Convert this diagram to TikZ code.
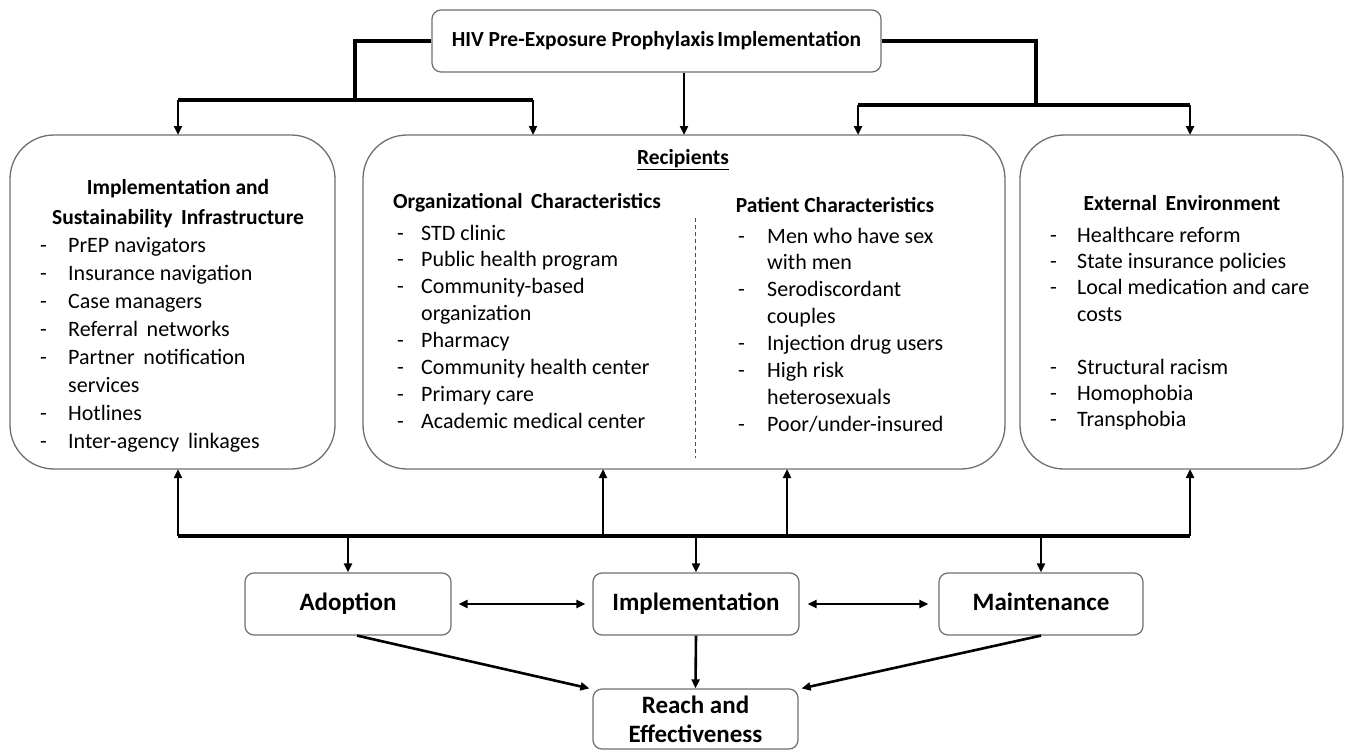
\documentclass[tikz,border=0pt]{standalone}
\usepackage{fontspec}
\setmainfont{Carlito}
\usetikzlibrary{arrows.meta}
\definecolor{boxgray}{HTML}{6E6E6E}
\begin{document}
\begin{tikzpicture}[x=1pt,y=-1pt,
  bigbox/.style={draw=boxgray, line width=1.3pt, rounded corners=44pt, inner sep=0pt},
  smallbox/.style={draw=boxgray, line width=1.2pt, rounded corners=9pt, inner sep=0pt,
     minimum width=206pt, minimum height=62pt, align=center,
     font=\fontsize{25}{29}\selectfont\bfseries},
  oneline/.style={text height=17pt, text depth=5pt},
  titlebox/.style={draw=boxgray, line width=1.2pt, rounded corners=9pt, inner sep=0pt,
     minimum width=449pt, minimum height=62pt, font=\fontsize{21.5}{25}\selectfont\bfseries},
  head/.style={inner sep=0pt, align=center, font=\fontsize{21.5}{30}\selectfont\bfseries},
  listtxt/.style={inner sep=0pt, anchor=base west},
  conn/.style={line width=3.2pt},
  arr/.style={line width=2.4pt, -{Triangle[length=9pt,width=8pt]}},
  darr/.style={line width=2.6pt, {Triangle[length=9pt,width=8pt]}-{Triangle[length=9pt,width=8pt]}},
  sep/.style={draw=black!70, line width=1pt, dash pattern=on 4pt off 3pt}
]
\useasboundingbox (0,0) rectangle (1353,752);
% title
\node[titlebox] (title) at (656.5,41) {HIV Pre-Exposure Prophylaxis\hspace{-0.08em} Implementation};
% big boxes
\node[bigbox, minimum width=325pt, minimum height=334pt] (left) at (172.5,302) {};
\node[bigbox, minimum width=642pt, minimum height=334pt] (mid) at (684,302) {};
\node[bigbox, minimum width=323pt, minimum height=334pt] (right) at (1181.5,302) {};
% small boxes
\node[smallbox, oneline] (adopt) at (348,604) {Adoption};
\node[smallbox, oneline] (impl) at (696,604) {Implementation};
\node[smallbox, oneline, minimum width=204pt] (maint) at (1041,604) {Maintenance};
\node[smallbox, minimum width=205pt, minimum height=60pt] (reach) at (695.5,719) {Reach and\\Effectiveness};

% headers
\node[head] (hleft) at (178,204) {Implementation and\\Sustainability\, Infrastructure};
\node[head] (hrec) at (683,160) {\underline{Recipients}};
\node[head] (horg) at (527,203) {Organizational\, Characteristics};
\node[head] (hpat) at (835,205) {Patient Characteristics};
\node[head] (hext) at (1182,203) {External\, Environment};

% lists
\node[listtxt, font=\fontsize{22}{28}\selectfont] (lleft) at (40,252) {%
\begin{tabular}[t]{@{}p{28pt}@{}l@{}}
-&PrEP navigators\\
-&Insurance navigation\\
-&Case managers\\
-&Referral\, networks\\
-&Partner\, notification\\
 &services\\
-&Hotlines\\
-&Inter-agency\, linkages
\end{tabular}};
\node[listtxt, font=\fontsize{22}{26.9}\selectfont] (lorg) at (397,240) {%
\begin{tabular}[t]{@{}p{24pt}@{}l@{}}
-&STD clinic\\
-&Public health program\\
-&Community-based\\
 &organization\\
-&Pharmacy\\
-&Community health center\\
-&Primary care\\
-&Academic medical center
\end{tabular}};
\node[listtxt, font=\fontsize{22}{26.9}\selectfont] (lpat) at (738,243) {%
\begin{tabular}[t]{@{}p{29pt}@{}l@{}}
-&Men who have sex\\
 &with men\\
-&Serodiscordant\\
 &couples\\
-&Injection drug users\\
-&High risk\\
 &heterosexuals\\
-&Poor/under-insured
\end{tabular}};
\node[listtxt, font=\fontsize{22}{26.4}\selectfont] (lext) at (1050,242) {%
\begin{tabular}[t]{@{}p{27pt}@{}l@{}}
-&Healthcare reform\\
-&State insurance policies\\
-&Local medication and care\\
 &costs\\
 &\\
-&Structural racism\\
-&Homophobia\\
-&Transphobia
\end{tabular}};

% dashed separator
\coordinate (s1) at (695,218);
\coordinate (s2) at (695,458);
\draw[sep] (s1) -- (s2);

% top connectors
\coordinate (jl) at (355,100);
\coordinate (jr) at (1036,105);
\coordinate (tA) at (178,135);
\coordinate (tB) at (533,135);
\coordinate (tC) at (684,135);
\coordinate (tD) at (858,135);
\coordinate (tE) at (1190,135);
\draw[conn] (title.west) -| (jl);
\draw[conn] (tA |- jl) -- (tB |- jl);
\draw[arr] (tA |- jl) -- (tA);
\draw[arr] (tB |- jl) -- (tB);
\draw[arr] (title.south -| tC) -- (tC);
\draw[conn] (title.east) -| (jr);
\draw[conn] (tD |- jr) -- (tE |- jr);
\draw[arr] (tD |- jr) -- (tD);
\draw[arr] (tE |- jr) -- (tE);

% bottom bar
\coordinate (bA) at (178,469);
\coordinate (bB) at (603,469);
\coordinate (bC) at (787,469);
\coordinate (bD) at (1190,469);
\coordinate (barL) at (178,536);
\coordinate (barR) at (1190,536);
\draw[conn] (barL) -- (barR);
\draw[arr] (barL) -- (bA);
\draw[arr] (barR) -- (bD);
\draw[arr] (bB |- barL) -- (bB);
\draw[arr] (bC |- barL) -- (bC);
\draw[arr] (adopt.north |- barL) -- (adopt.north);
\draw[arr] (impl.north |- barL) -- (impl.north);
\draw[arr] (maint.north |- barL) -- (maint.north);

% horizontal links
\draw[darr, shorten <=7pt, shorten >=7pt] (adopt.east) -- (impl.west);
\draw[darr, shorten <=8pt, shorten >=10pt] (impl.east) -- (maint.west);

% to reach
\draw[arr, line width=2.6pt] ([xshift=9pt]adopt.south) -- ([xshift=-3pt]reach.north west);
\draw[arr, line width=2.6pt] (impl.south) -- (reach.north);
\draw[arr, line width=2.6pt] (maint.south) -- ([xshift=3pt]reach.north east);
\end{tikzpicture}
\end{document}
